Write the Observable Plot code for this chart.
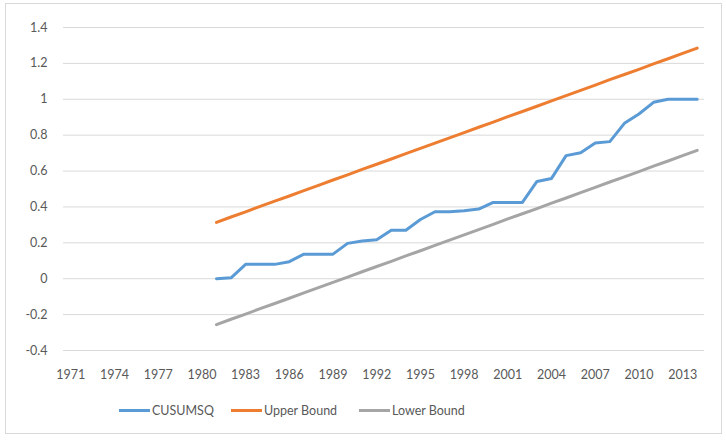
<!DOCTYPE html>
<html>
<head>
<meta charset="utf-8">
<script src="https://cdn.jsdelivr.net/npm/d3@7"></script>
<script src="https://cdn.jsdelivr.net/npm/@observablehq/plot@0.6"></script>
<style>
  html, body { margin: 0; padding: 0; background: #fff; }
  body { width: 726px; height: 440px; position: relative; overflow: hidden; font-family: Lato, "Open Sans", sans-serif; }
  #frame { position: absolute; left: 5px; top: 3px; width: 717px; height: 431px; border: 1px solid #d9d9d9; box-sizing: border-box; }
  #chart { position: absolute; left: 0; top: 0; }
  #legend { position: absolute; left: 0; top: 402px; width: 726px; height: 18px; }
  .item { position: absolute; top: 0; font-size: 12.5px; color: #595959; line-height: 18px; }
  .sw { display: inline-block; width: 31px; height: 3px; vertical-align: middle; margin-right: 2px; position: relative; top: -1px; }
</style>
</head>
<body>
<div id="frame"></div>
<div id="chart"></div>
<div id="legend"></div>
<script>
const years = d3.range(1971, 2015);
const seriesYears = d3.range(1981, 2015);
const tickYears = [1971, 1974, 1977, 1980, 1983, 1986, 1989, 1992, 1995, 1998, 2001, 2004, 2007, 2010, 2013];
const yTicks = [-0.4, -0.2, 0, 0.2, 0.4, 0.6, 0.8, 1, 1.2, 1.4];
const seriesNames = ["CUSUMSQ", "Upper Bound", "Lower Bound"];
const seriesColors = ["#5B9BD5", "#ED7D31", "#A5A5A5"];

const cusumsq = [0.00, 0.005, 0.08, 0.08, 0.08, 0.095, 0.137, 0.137, 0.137, 0.197, 0.21, 0.217,
  0.27, 0.27, 0.33, 0.373, 0.373, 0.379, 0.388, 0.425, 0.425, 0.425, 0.542, 0.559, 0.686, 0.702,
  0.756, 0.764, 0.866, 0.918, 0.983, 1.0, 1.0, 1.0];
const upper = [0.314, 0.344, 0.373, 0.403, 0.432, 0.461, 0.491, 0.520, 0.550, 0.579, 0.609, 0.638,
  0.667, 0.697, 0.726, 0.756, 0.785, 0.814, 0.844, 0.873, 0.903, 0.932, 0.961, 0.991, 1.020, 1.050,
  1.079, 1.109, 1.138, 1.167, 1.197, 1.226, 1.256, 1.285];
const lower = [-0.256, -0.226, -0.197, -0.167, -0.138, -0.109, -0.079, -0.050, -0.020, 0.009, 0.039,
  0.068, 0.097, 0.127, 0.156, 0.186, 0.215, 0.244, 0.274, 0.303, 0.333, 0.362, 0.391, 0.421, 0.450,
  0.480, 0.509, 0.539, 0.568, 0.597, 0.627, 0.656, 0.686, 0.715];

const seriesValues = [cusumsq, upper, lower];
const rows = [];
seriesNames.forEach((name, s) => {
  seriesValues[s].forEach((v, i) => rows.push({series: name, year: seriesYears[i], value: v}));
});

const plot = Plot.plot({
  width: 726,
  height: 396,
  marginLeft: 63,
  marginRight: 22,
  marginTop: 27,
  marginBottom: 46,
  style: {fontFamily: "Lato, 'Open Sans', sans-serif", fontSize: "12.5px", color: "#595959", background: "transparent"},
  x: {type: "point", domain: years, padding: 0.5, round: false, label: null},
  y: {domain: [-0.4, 1.4], label: null},
  color: {domain: seriesNames, range: seriesColors},
  marks: [
    Plot.gridY(yTicks, {stroke: "#d9d9d9", strokeOpacity: 1, strokeWidth: 1}),
    Plot.axisY(yTicks, {tickSize: 0, tickPadding: 16, tickFormat: d => String(+d.toFixed(1)), label: null, fill: "#595959"}),
    Plot.axisX(tickYears, {tickSize: 0, tickPadding: 20, tickFormat: d => String(d), label: null, fill: "#595959"}),
    Plot.line(rows, {x: "year", y: "value", z: "series", stroke: "series", strokeWidth: 3, strokeLinejoin: "round", strokeLinecap: "round"})
  ]
});
document.getElementById("chart").appendChild(plot);

const legendPos = [119, 231, 359];
const legend = document.getElementById("legend");
seriesNames.forEach((name, i) => {
  const el = document.createElement("div");
  el.className = "item";
  el.style.left = legendPos[i] + "px";
  el.innerHTML = `<span class="sw" style="background:${seriesColors[i]}"></span>${name}`;
  legend.appendChild(el);
});
</script>
</body>
</html>
